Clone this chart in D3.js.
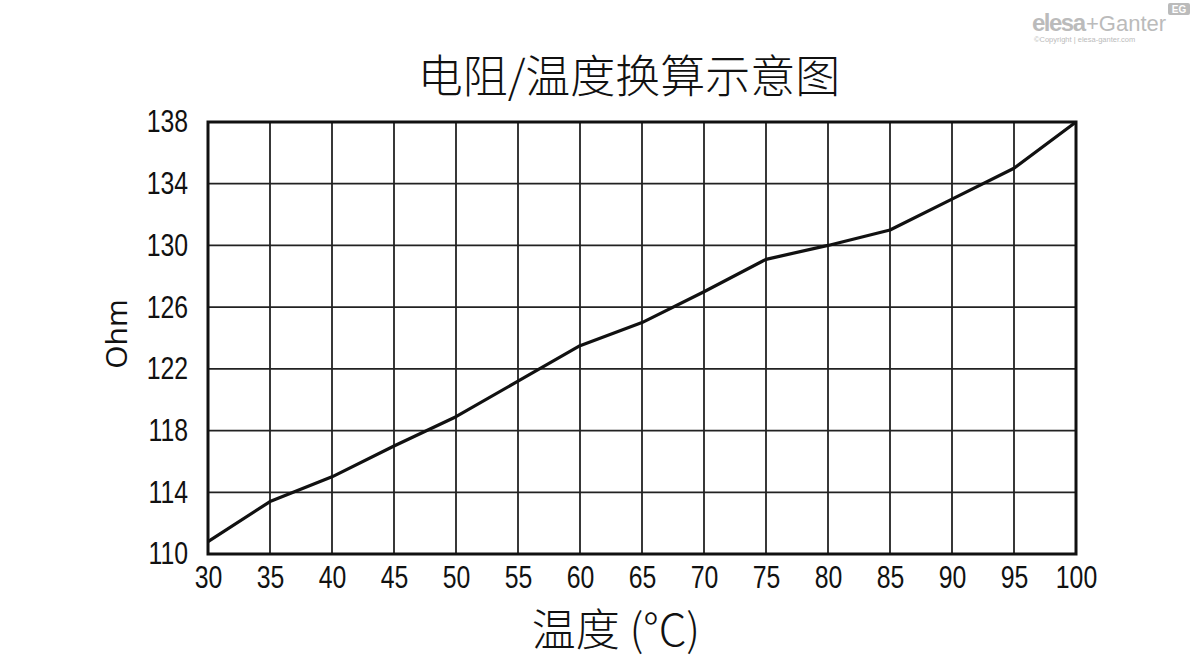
<!DOCTYPE html>
<html><head><meta charset="utf-8">
<script src="https://cdn.jsdelivr.net/npm/d3@7"></script>
<style>body{margin:0;background:#fff}</style>
</head><body>
<svg id="c" width="1200" height="662"></svg>
<script>
const temps = [30,35,40,45,50,55,60,65,70,75,80,85,90,95,100];
const ohms = [110.8,113.4,115.0,117.0,118.9,121.2,123.5,125.0,127.0,129.1,130.0,131.0,133.0,135.0,138.0];
const yTicks = [110,114,118,122,126,130,134,138];
const title = "电阻/温度换算示意图";
const xTitle = "温度 (°C)";
const yTitle = "Ohm";

const svg = d3.select("#c");
const L=208,R=1076,T=122,B=554;
const x = d3.scaleLinear().domain([30,100]).range([L,R]);
const y = d3.scaleLinear().domain([110,138]).range([B,T]);
const tickFont = "'Liberation Sans Narrow','Arial Narrow','Liberation Sans',sans-serif";

// grid
svg.append("g").selectAll("line").data(temps).join("line")
  .attr("x1",d=>x(d)).attr("x2",d=>x(d)).attr("y1",T).attr("y2",B)
  .attr("stroke","#222").attr("stroke-width",1.8);
svg.append("g").selectAll("line").data(yTicks).join("line")
  .attr("y1",d=>y(d)).attr("y2",d=>y(d)).attr("x1",L).attr("x2",R)
  .attr("stroke","#222").attr("stroke-width",1.8);
svg.append("rect").attr("x",L).attr("y",T).attr("width",R-L).attr("height",B-T)
  .attr("fill","none").attr("stroke","#111").attr("stroke-width",3);

// axes labels
const xa = svg.append("g").attr("transform",`translate(0,${B})`)
  .call(d3.axisBottom(x).tickValues(temps).tickSize(0).tickPadding(0));
xa.select(".domain").remove();
xa.selectAll("text").attr("font-family",tickFont).attr("font-size",31).attr("fill","#111")
  .attr("y",0).attr("dy",0).attr("transform","translate(0,34) scale(0.8,1)");
const ya = svg.append("g").attr("transform",`translate(${L},0)`)
  .call(d3.axisLeft(y).tickValues(yTicks).tickSize(0).tickPadding(0));
ya.select(".domain").remove();
ya.selectAll("text").attr("font-family",tickFont).attr("font-size",31).attr("fill","#111")
  .attr("x",0).attr("transform","translate(-20,0) scale(0.8,1)");

// line
svg.append("path").datum(temps.map((t,i)=>[t,ohms[i]]))
  .attr("d",d3.line().x(d=>x(d[0])).y(d=>y(d[1])))
  .attr("fill","none").attr("stroke","#111").attr("stroke-width",3.2).attr("stroke-linejoin","round");

// titles
svg.append("text").attr("x",629).attr("y",93).attr("text-anchor","middle")
  .attr("font-family","'Noto Sans CJK SC',sans-serif").attr("font-weight",300).attr("font-size",45).attr("fill","#111").text(title);
svg.append("text").attr("x",616).attr("y",646).attr("text-anchor","middle")
  .attr("font-family","'Noto Sans CJK SC',sans-serif").attr("font-weight",300).attr("font-size",44).attr("fill","#111").text(xTitle);
svg.append("text").attr("transform","translate(127,334) rotate(-90)").attr("text-anchor","middle")
  .attr("font-family","'Open Sans',sans-serif").attr("font-size",30).attr("fill","#111").text(yTitle);

// watermark
const wm = svg.append("g").attr("fill","#bbb");
wm.append("text").attr("x",1032).attr("y",31).attr("font-family","'Liberation Sans',sans-serif")
  .attr("font-size",24).attr("font-weight","bold").attr("letter-spacing",-1.5).text("elesa");
wm.append("text").attr("x",1086).attr("y",31).attr("font-family","'Liberation Sans',sans-serif")
  .attr("font-size",22).text("+Ganter");
wm.append("text").attr("x",1034).attr("y",42).attr("font-family","'Liberation Sans',sans-serif")
  .attr("font-size",7.5).text("©Copyright | elesa-ganter.com");
wm.append("rect").attr("x",1168).attr("y",3).attr("width",22).attr("height",12).attr("rx",2);
wm.append("text").attr("x",1179).attr("y",13).attr("text-anchor","middle").attr("fill","#fff")
  .attr("font-family","'Liberation Sans',sans-serif").attr("font-size",10).attr("font-weight","bold").text("EG");
</script>
</body></html>
